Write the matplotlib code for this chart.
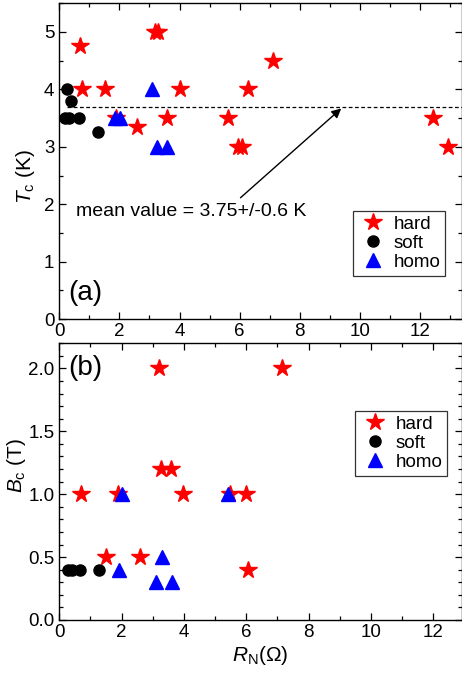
import matplotlib
matplotlib.use("Agg")
import matplotlib.pyplot as plt
from matplotlib.ticker import MultipleLocator

plt.rcParams['font.family'] = ['Liberation Sans', 'DejaVu Sans']
plt.rcParams['mathtext.fontset'] = 'custom'
plt.rcParams['mathtext.rm'] = 'Liberation Sans'
plt.rcParams['mathtext.it'] = 'Liberation Sans:italic'

# Panel (a): Tc vs RN
hard_a_x = [0.69, 0.77, 1.51, 1.89, 2.6, 3.18, 3.29, 3.6, 4.0, 5.62, 5.96, 6.09, 6.27, 7.12, 12.44, 12.94]
hard_a_y = [4.75, 4.0, 4.0, 3.5, 3.34, 5.0, 5.0, 3.5, 4.0, 3.5, 3.0, 3.0, 4.0, 4.5, 3.5, 3.0]
soft_a_x = [0.25, 0.38, 0.19, 0.32, 0.65, 1.30]
soft_a_y = [4.0, 3.8, 3.5, 3.5, 3.5, 3.25]
homo_a_x = [1.87, 2.02, 3.09, 3.26, 3.57]
homo_a_y = [3.5, 3.5, 4.0, 3.0, 3.0]
mean_tc = 3.7

# Panel (b): Bc vs RN
hard_b_x = [0.70, 1.89, 1.50, 2.59, 3.2, 3.27, 3.59, 3.98, 5.48, 5.99, 6.07, 7.13]
hard_b_y = [1.0, 1.0, 0.5, 0.5, 2.0, 1.2, 1.2, 1.0, 1.0, 1.0, 0.4, 2.0]
soft_b_x = [0.29, 0.40, 0.66, 1.28]
soft_b_y = [0.4, 0.4, 0.4, 0.4]
homo_b_x = [2.0, 1.91, 3.3, 3.09, 3.6, 5.4]
homo_b_y = [1.0, 0.4, 0.5, 0.3, 0.3, 1.0]

W, H = 462, 675
fig = plt.figure(figsize=(W / 100, H / 100), dpi=100)

def frac(x0, y0, x1, y1):
    return [x0 / W, 1 - y1 / H, (x1 - x0) / W, (y1 - y0) / H]

ax1 = fig.add_axes(frac(59.3, 3.3, 462, 319))
ax2 = fig.add_axes(frac(59.3, 343.3, 462, 620))

def draw(ax, hx, hy, sx, sy, tx, ty):
    ax.plot(hx, hy, ls='none', marker='*', ms=13, color='#ff0000', mec='#ff0000', label='hard')
    ax.plot(sx, sy, ls='none', marker='o', ms=8, color='black', label='soft')
    ax.plot(tx, ty, ls='none', marker='^', ms=9.5, color='#0000ff', label='homo')

def style(ax):
    ax.tick_params(which='both', direction='in', top=True, right=True, labelsize=13.5)
    ax.tick_params(which='major', length=5, width=0.9)
    ax.tick_params(which='minor', length=3, width=0.9)
    ax.xaxis.set_major_locator(MultipleLocator(2))
    ax.xaxis.set_minor_locator(MultipleLocator(1))
    for s in ax.spines.values():
        s.set_linewidth(1.0)
    ax.tick_params(axis='x', pad=3)

draw(ax1, hard_a_x, hard_a_y, soft_a_x, soft_a_y, homo_a_x, homo_a_y)
ax1.plot([0.25, 13.4], [mean_tc, mean_tc], ls=(0, (3, 2)), color='black', lw=0.9)
ax1.annotate('', xy=(9.45, mean_tc), xytext=(5.96, 2.08),
             arrowprops=dict(arrowstyle='-|>', color='black', lw=1.0, mutation_scale=14))
ax1.text(0.55, 1.87, 'mean value = 3.75+/-0.6 K', fontsize=14, va='center', ha='left')
ax1.text(0.3, 0.45, '(a)', fontsize=20, va='center', ha='left')
ax1.set_xlim(0, 13.4)
ax1.set_ylim(0, 5.5)
ax1.yaxis.set_major_locator(MultipleLocator(1))
ax1.yaxis.set_minor_locator(MultipleLocator(0.5))
style(ax1)
ax1.set_ylabel(r'$T_\mathrm{c}$ (K)', fontsize=15)
ax1.yaxis.set_label_coords(-0.055, 0.45)
leg1 = ax1.legend(loc='upper left', bbox_to_anchor=((353 - 59.3) / 402.7, (319 - 211) / 315.7),
                  fontsize=13.5, frameon=True, fancybox=False, edgecolor='black',
                  handletextpad=0.3, borderpad=0.25, labelspacing=0.1, handlelength=1.6,
                  borderaxespad=0)
leg1.get_frame().set_linewidth(0.9)

draw(ax2, hard_b_x, hard_b_y, soft_b_x, soft_b_y, homo_b_x, homo_b_y)
ax2.text(0.3, 2.0, '(b)', fontsize=20, va='center', ha='left')
ax2.set_xlim(0, 12.92)
ax2.set_ylim(0, 2.2)
ax2.yaxis.set_major_locator(MultipleLocator(0.5))
ax2.yaxis.set_minor_locator(MultipleLocator(0.1))
ax2.yaxis.set_major_formatter(matplotlib.ticker.FormatStrFormatter('%.1f'))
style(ax2)
ax2.set_ylabel(r'$B_\mathrm{c}$ (T)', fontsize=15)
ax2.yaxis.set_label_coords(-0.078, 0.56)
ax2.set_xlabel(r'$R_\mathrm{N}$($\Omega$)', fontsize=15, labelpad=2)
leg2 = ax2.legend(loc='upper left', bbox_to_anchor=((355 - 59.3) / 402.7, (620 - 411) / 276.7),
                  fontsize=13.5, frameon=True, fancybox=False, edgecolor='black',
                  handletextpad=0.3, borderpad=0.25, labelspacing=0.1, handlelength=1.6,
                  borderaxespad=0)
leg2.get_frame().set_linewidth(0.9)

fig.savefig('out.png', dpi=100)
